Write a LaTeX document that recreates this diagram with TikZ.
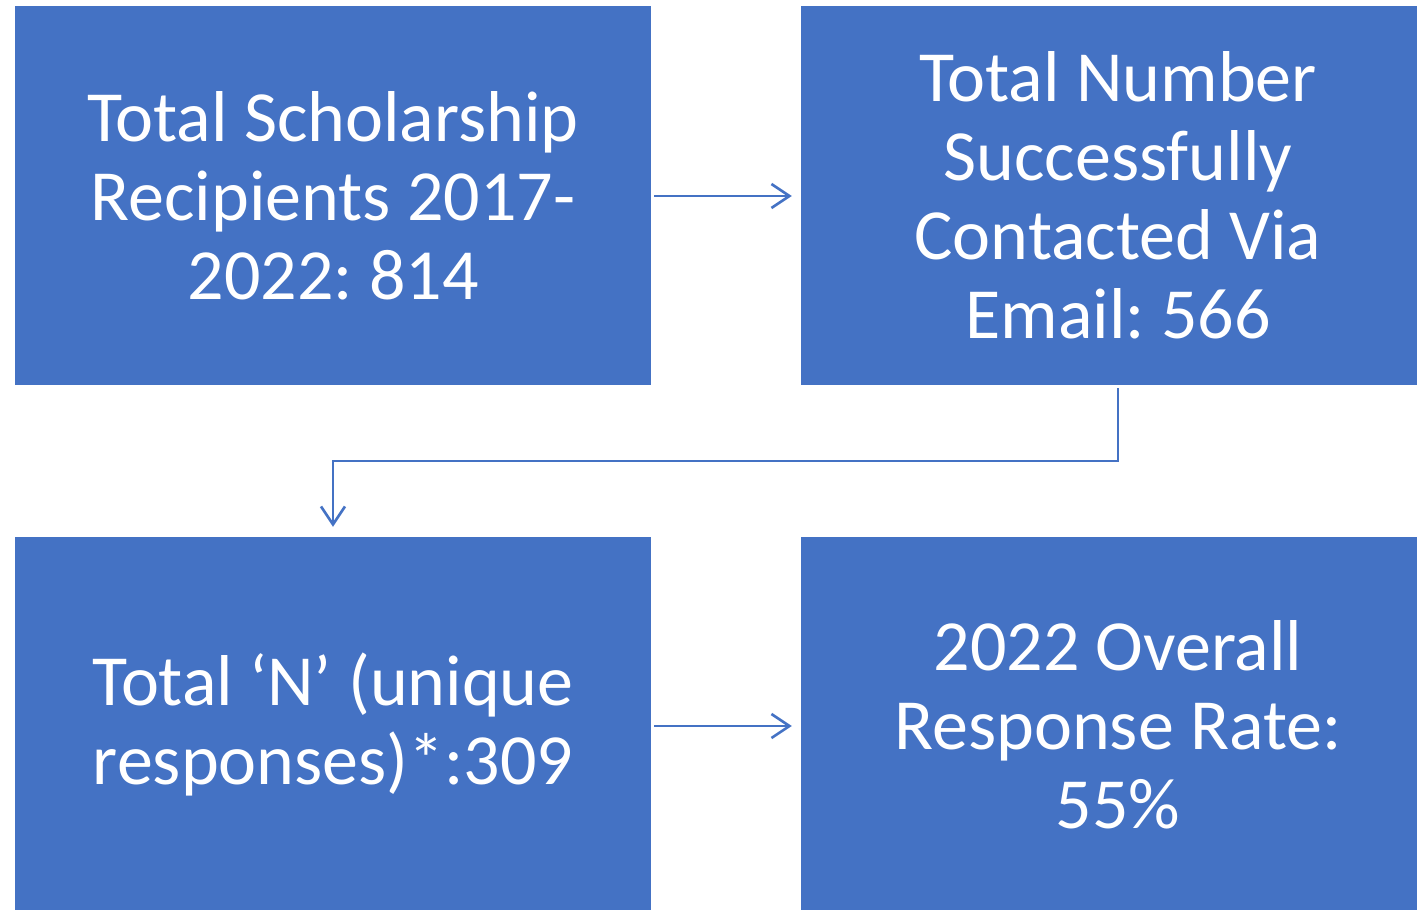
\documentclass[tikz,border=0pt]{standalone}
\usepackage{fontspec}
\setmainfont{Carlito}
\usetikzlibrary{arrows.meta}
\definecolor{boxblue}{HTML}{4472C4}
\frenchspacing
\begin{document}
\begin{tikzpicture}[x=1pt,y=-1pt,
  box/.style={fill=boxblue, draw=none, text=white, align=center,
    font=\fontsize{72}{79}\selectfont\frenchspacing, inner sep=0pt},
  conn/.style={draw=boxblue, line width=2.6pt,
    -{Straight Barb[length=18pt,width=24pt,line width=2.6pt]}}]
\useasboundingbox (0,0) rectangle (1417,910);
\clip (0,0) rectangle (1417,910);
\node[box, minimum width=636pt, minimum height=379pt] (b1) at (333,195.5)
  {Total Scholarship\\Recipients 2017-\\2022: 814};
\node[box, minimum width=634pt, minimum height=379pt] (b2) at (1118,195.5)
  {Total Number\\Successfully\\Contacted Via\\Email: 566};
\node[box, minimum width=636pt, minimum height=375pt] (b3) at (333,724.5)
  {Total ‘N’ (unique\\responses)*:309};
\node[box, minimum width=634pt, minimum height=375pt] (b4) at (1118,724.5)
  {2022 Overall\\Response Rate:\\55\%};
\coordinate (e1) at (1118,461);
\coordinate (e2) at (333,461);
\draw[conn, shorten <=3pt, shorten >=9pt] (b1.east |- 0,196) -- (b2.west |- 0,196);
\draw[conn, shorten <=3pt, shorten >=10pt] (b2.south) -- (e1) -- (e2) -- (b3.north);
\draw[conn, shorten <=3pt, shorten >=9pt] (b3.east |- 0,726) -- (b4.west |- 0,726);
\end{tikzpicture}
\end{document}
